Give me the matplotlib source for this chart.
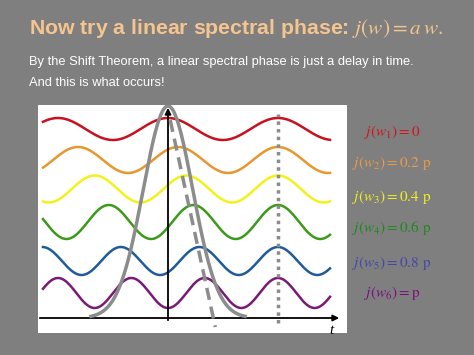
import numpy as np
import matplotlib
matplotlib.use("Agg")
import matplotlib.pyplot as plt

plt.rcParams['mathtext.fontset'] = 'stix'

# ---- data ----
phase_labels = [r"$j(w_1) = 0$", r"$j(w_2) = 0.2\ \mathrm{p}$", r"$j(w_3) = 0.4\ \mathrm{p}$",
                r"$j(w_4) = 0.6\ \mathrm{p}$", r"$j(w_5) = 0.8\ \mathrm{p}$", r"$j(w_6) = \mathrm{p}$"]
phases = [0.0, 0.2, 0.4, 0.6, 0.8, 1.0]          # spectral phase in units of pi
wave_colors = ["#c8101e", "#e8962e", "#f2f21a", "#3c9a1a", "#1f5a9a", "#7a1a78"]
label_colors = ["#d0141e", "#e89a4a", "#f0f020", "#1e8a1e", "#4646a8", "#7a0f80"]
wave_offsets = [204, 173, 144, 111, 72, 40]
wave_amps = [11, 13, 13.5, 17, 14, 15]
delay = 1.0
pulse_sigma = 0.225
pulse_base = 15
pulse_height = 212

fig = plt.figure(figsize=(4.74, 3.55), dpi=100)
fig.patch.set_facecolor("#7f7f7f")

ax = fig.add_axes([38/474, 22/355, 309/474, 228/355])
ax.set_facecolor("white")
ax.set_xlim(-130/110, 179/110)
ax.set_ylim(0, 228)
ax.axis("off")
ax.add_patch(plt.Rectangle((0, 0), 1, 1, transform=ax.transAxes, color="white", zorder=0))

t = np.linspace(-125/110, 162/110, 600)
for ph, c, off, amp in zip(phases, wave_colors, wave_offsets, wave_amps):
    w = 2*np.pi + ph*np.pi
    ax.plot(t, off + amp*np.cos(w*(t - delay)), color=c, lw=1.8, zorder=2)

# axes arrows
ax.annotate("", xy=(174/110, pulse_base), xytext=(-131/110, pulse_base),
            arrowprops=dict(arrowstyle="-|>", color="black", lw=1.3, mutation_scale=9), zorder=3)
ax.annotate("", xy=(0, 228), xytext=(0, 10),
            arrowprops=dict(arrowstyle="-|>", color="black", lw=1.3, mutation_scale=9), zorder=3)

# pulse
tp = np.linspace(-0.7, 0.7, 300)
ax.plot(tp, pulse_base + pulse_height*np.exp(-tp**2/(2*pulse_sigma**2)), color="#8c8c8c", lw=2.5, zorder=4)
# dashed line
ax.plot([0.02, 0.43], [213, 6], color="#8c8c8c", lw=2.5, ls=(0, (3.5, 2)), zorder=4)
# dotted line
ax.plot([delay, delay], [10, 219], color="#8c8c8c", lw=2.5, ls=(0, (1, 1.2)), zorder=4)

ax.text(1.49, 3, "t", fontsize=11, style="italic", family="Liberation Serif", ha="center", va="center")

fig.text(29/474, 1-29/355, r"Now try a linear spectral phase: $j(w) = a\,w.$", color="#f5c590",
         fontsize=15.3, fontweight="bold", family="Liberation Sans", va="center", ha="left")
fig.text(29/474, 1-62/355, "By the Shift Theorem, a linear spectral phase is just a delay in time.",
         color="white", fontsize=9.3, family="Liberation Sans", va="center", ha="left")
fig.text(29/474, 1-83/355, "And this is what occurs!",
         color="white", fontsize=9.3, family="Liberation Sans", va="center", ha="left")

label_y = [132, 163, 197, 228, 263, 293]
for lab, c, y in zip(phase_labels, label_colors, label_y):
    fig.text(392/474, 1-y/355, lab, color=c, fontsize=11, ha="center", va="center")

fig.savefig("out.png", dpi=100, facecolor=fig.get_facecolor())
